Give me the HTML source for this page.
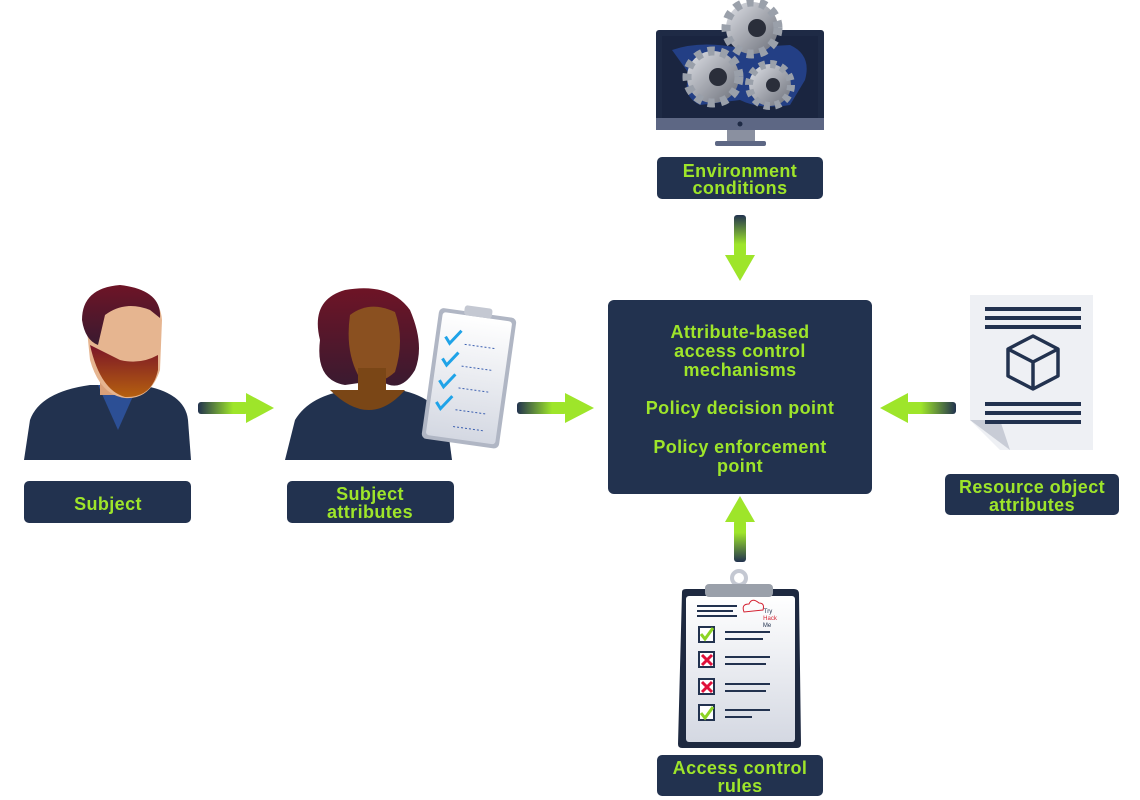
<!DOCTYPE html>
<html><head><meta charset="utf-8"><style>
html,body{margin:0;padding:0;background:#fff;}
svg{display:block;}
text{font-family:"Liberation Sans",sans-serif;font-weight:bold;fill:#9ee52a;text-anchor:middle;letter-spacing:0.4px;}
</style></head><body>
<svg width="1140" height="800" viewBox="0 0 1140 800" xmlns="http://www.w3.org/2000/svg">
<defs>
<linearGradient id="gh" x1="0" y1="0" x2="1" y2="0"><stop offset="0" stop-color="#22324f"/><stop offset="0.7" stop-color="#9ee52a"/></linearGradient>
<linearGradient id="ghr" x1="1" y1="0" x2="0" y2="0"><stop offset="0" stop-color="#22324f"/><stop offset="0.7" stop-color="#9ee52a"/></linearGradient>
<linearGradient id="gvd" x1="0" y1="0" x2="0" y2="1"><stop offset="0" stop-color="#22324f"/><stop offset="0.7" stop-color="#9ee52a"/></linearGradient>
<linearGradient id="gvu" x1="0" y1="1" x2="0" y2="0"><stop offset="0" stop-color="#22324f"/><stop offset="0.7" stop-color="#9ee52a"/></linearGradient>
<linearGradient id="hair" x1="0" y1="0" x2="0" y2="1"><stop offset="0" stop-color="#6e1426"/><stop offset="1" stop-color="#3a1a30"/></linearGradient>
<linearGradient id="beard" x1="0" y1="0" x2="0" y2="1"><stop offset="0" stop-color="#7a1428"/><stop offset="1" stop-color="#b5600f"/></linearGradient>
<linearGradient id="paper" x1="0" y1="0" x2="0" y2="1"><stop offset="0" stop-color="#ffffff"/><stop offset="1" stop-color="#d4d8e2"/></linearGradient>
<linearGradient id="gear" x1="0" y1="0" x2="1" y2="1"><stop offset="0" stop-color="#e0e2e8"/><stop offset="1" stop-color="#6a6e78"/></linearGradient>
</defs>

<!-- Man -->
<path d="M24,460 L30,420 Q40,392 90,385 L140,385 Q185,392 188,420 L191,460 Z" fill="#22324f"/>
<path d="M98,385 L118,430 L138,385 Z" fill="#2c4f95"/>
<rect x="100" y="355" width="36" height="40" fill="#d9a07a"/>
<path d="M85,310 Q90,290 120,288 Q160,290 162,320 L160,370 Q150,400 125,398 Q100,395 90,360 Z" fill="#e6b590"/>
<path d="M90,345 Q100,390 125,397 Q152,398 158,370 L158,355 Q140,365 120,360 Z" fill="url(#beard)"/>
<path d="M82,320 Q82,288 120,285 Q162,290 160,318 L150,310 Q125,300 105,315 L98,345 Q85,340 82,320 Z" fill="url(#hair)"/>

<!-- Woman -->
<path d="M285,460 L295,420 Q310,395 350,390 L400,390 Q440,398 448,430 L452,460 Z" fill="#22324f"/>
<path d="M330,390 Q370,430 405,390 Z" fill="#7a4616"/>
<path d="M320,340 Q310,300 345,290 Q390,282 410,310 Q425,345 415,370 Q400,395 380,380 L345,385 Q315,380 320,340 Z" fill="url(#hair)"/>
<path d="M350,315 Q370,300 395,312 Q405,340 395,372 Q375,390 358,375 Q345,350 350,315 Z" fill="#8a5020"/>
<rect x="358" y="368" width="28" height="25" fill="#7a4616"/>

<!-- small clipboard -->
<g transform="rotate(8 467 378)">
<rect x="430" y="312" width="78" height="132" rx="5" fill="#b0b6c4"/>
<rect x="434" y="316" width="70" height="124" rx="3" fill="url(#paper)"/>
<rect x="455" y="306" width="28" height="10" rx="3" fill="#c4c8d2"/>
<g stroke="#1fa3e8" stroke-width="3" fill="none">
<path d="M440,340 l5,6 l10,-14"/><path d="M440,362 l5,6 l10,-14"/><path d="M440,384 l5,6 l10,-14"/><path d="M440,406 l5,6 l10,-14"/>
</g>
<g stroke="#3b5fb0" stroke-width="1" stroke-dasharray="2,2">
<line x1="460" y1="345" x2="492" y2="345"/><line x1="460" y1="367" x2="492" y2="367"/><line x1="460" y1="389" x2="492" y2="389"/><line x1="460" y1="411" x2="492" y2="411"/><line x1="460" y1="428" x2="492" y2="428"/>
</g>
</g>

<!-- Monitor -->
<rect x="656" y="30" width="168" height="100" rx="3" fill="#1e2a45"/>
<rect x="662" y="36" width="156" height="82" fill="#1a2540"/>
<path d="M672,50 Q700,40 740,48 L790,45 Q812,55 805,80 L790,105 Q760,110 740,100 L700,105 Q680,95 690,75 Z" fill="#233f85"/>
<rect x="656" y="118" width="168" height="12" fill="#5d6784"/>
<circle cx="740" cy="124" r="2.5" fill="#1e2a45"/>
<rect x="727" y="130" width="28" height="12" fill="#8a90a0"/>
<rect x="715" y="141" width="51" height="5" rx="2" fill="#5d6784"/>
<g fill="url(#gear)">
<circle cx="752" cy="28" r="26" stroke="#9aa0aa" stroke-width="9" stroke-dasharray="7,6"/>
<circle cx="713" cy="77" r="26" stroke="#9aa0aa" stroke-width="9" stroke-dasharray="7,6"/>
<circle cx="770" cy="85" r="21" stroke="#9aa0aa" stroke-width="8" stroke-dasharray="6,5"/>
</g>
<circle cx="757" cy="28" r="9" fill="#2a2e3a"/>
<circle cx="718" cy="77" r="9" fill="#2a2e3a"/>
<circle cx="773" cy="85" r="7" fill="#2a2e3a"/>

<!-- Document -->
<path d="M970,295 L1093,295 L1093,450 L1000,450 L970,420 Z" fill="#eef0f4"/>
<path d="M970,420 L1000,420 L1010,450 Z" fill="#c8ccd6"/>
<g fill="#22324f">
<rect x="985" y="307" width="96" height="4"/><rect x="985" y="316" width="96" height="4"/><rect x="985" y="325" width="96" height="4"/>
<rect x="985" y="402" width="96" height="4"/><rect x="985" y="411" width="96" height="4"/><rect x="985" y="420" width="96" height="4"/>
</g>
<g fill="none" stroke="#22324f" stroke-width="3.5" stroke-linejoin="round">
<path d="M1033,336 L1058,349 L1058,376 L1033,389 L1008,376 L1008,349 Z"/>
<path d="M1008,349 L1033,362 L1058,349 M1033,362 L1033,389"/>
</g>

<!-- bottom clipboard -->
<circle cx="739" cy="578" r="7" fill="none" stroke="#c4c8d2" stroke-width="4"/>
<path d="M682,592 Q682,589 686,589 L794,589 Q799,589 799,594 L801,744 Q801,748 797,748 L682,748 Q678,748 678,744 Z" fill="#1e2940"/>
<rect x="686" y="596" width="109" height="146" rx="3" fill="url(#paper)"/>
<rect x="705" y="584" width="68" height="13" rx="4" fill="#9aa0aa"/>
<g fill="#22324f">
<rect x="697" y="605" width="40" height="2"/><rect x="697" y="610" width="36" height="2"/><rect x="697" y="615" width="40" height="2"/>
<rect x="725" y="631" width="45" height="2"/><rect x="725" y="638" width="38" height="2"/>
<rect x="725" y="656" width="45" height="2"/><rect x="725" y="663" width="41" height="2"/>
<rect x="725" y="683" width="45" height="2"/><rect x="725" y="690" width="41" height="2"/>
<rect x="725" y="709" width="45" height="2"/><rect x="725" y="716" width="27" height="2"/>
</g>
<g stroke="#22324f" stroke-width="2" fill="#fff">
<rect x="699" y="627" width="15" height="15"/><rect x="699" y="652" width="15" height="15"/><rect x="699" y="679" width="15" height="15"/><rect x="699" y="705" width="15" height="15"/>
</g>
<g stroke-width="3" fill="none">
<path d="M701,634 l4,5 l8,-11" stroke="#8cd424"/><path d="M701,713 l4,5 l8,-11" stroke="#8cd424"/>
<path d="M702,655 l10,10 M712,655 l-10,10" stroke="#e0103a"/><path d="M702,682 l10,10 M712,682 l-10,10" stroke="#e0103a"/>
</g>
<path d="M744,612 q-3,-8 5,-8 q3,-7 10,-1 q6,0 4,7 z" fill="none" stroke="#d42030" stroke-width="1"/>
<text x="768" y="613" style="font-size:6px;fill:#22324f;font-weight:normal;letter-spacing:0">Try</text>
<text x="770" y="620" style="font-size:6px;fill:#d42030;font-weight:normal;letter-spacing:0">Hack</text>
<text x="767" y="627" style="font-size:6px;fill:#22324f;font-weight:normal;letter-spacing:0">Me</text>

<!-- arrows -->
<rect x="198" y="402" width="50" height="12" rx="3" fill="url(#gh)"/>
<path d="M246,393 L274,408 L246,423 Z" fill="#9ee52a"/>
<rect x="517" y="402" width="50" height="12" rx="3" fill="url(#gh)"/>
<path d="M565,393 L594,408 L565,423 Z" fill="#9ee52a"/>
<rect x="906" y="402" width="50" height="12" rx="3" fill="url(#ghr)"/>
<path d="M908,393 L880,408 L908,423 Z" fill="#9ee52a"/>
<rect x="734" y="215" width="12" height="42" rx="3" fill="url(#gvd)"/>
<path d="M725,255 L740,281 L755,255 Z" fill="#9ee52a"/>
<rect x="734" y="520" width="12" height="42" rx="3" fill="url(#gvu)"/>
<path d="M725,522 L740,496 L755,522 Z" fill="#9ee52a"/>

<!-- boxes -->
<g fill="#22324f">
<rect x="24" y="481" width="167" height="42" rx="5"/>
<rect x="287" y="481" width="167" height="42" rx="5"/>
<rect x="657" y="157" width="166" height="42" rx="5"/>
<rect x="608" y="300" width="264" height="194" rx="6"/>
<rect x="945" y="474" width="174" height="41" rx="5"/>
<rect x="657" y="755" width="166" height="41" rx="5"/>
</g>
<g style="font-size:18px">
<text x="108" y="510">Subject</text>
<text x="370" y="500">Subject</text><text x="370" y="518">attributes</text>
<text x="740" y="177">Environment</text><text x="740" y="194">conditions</text>
<text x="740" y="338">Attribute-based</text><text x="740" y="357">access control</text><text x="740" y="376">mechanisms</text>
<text x="740" y="414">Policy decision point</text>
<text x="740" y="453">Policy enforcement</text><text x="740" y="472">point</text>
<text x="1032" y="493">Resource object</text><text x="1032" y="511">attributes</text>
<text x="740" y="774">Access control</text><text x="740" y="792">rules</text>
</g>
</svg>
</body></html>
